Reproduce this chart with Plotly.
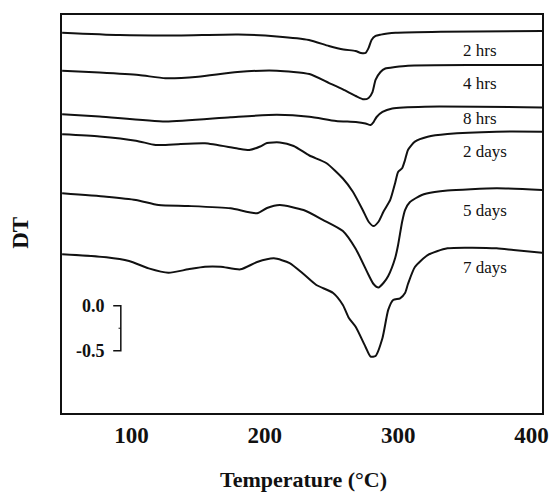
import plotly.graph_objects as go

# ---- data (temperature in °C, DT deviation from each curve's own baseline) ----
labels = ["2 hrs", "4 hrs", "8 hrs", "2 days", "5 days", "7 days"]
offsets = [4.226, 3.803, 3.319, 3.097, 2.441, 1.764]   # vertical stacking offset of each curve

t_2h = [48, 91, 135, 180, 209, 233, 248, 259, 268, 272, 275.5, 277.8, 280, 283, 287, 292, 298, 332, 408]
dt_2h = [0, -0.026, -0.031, -0.020, -0.042, -0.081, -0.148, -0.187, -0.203, -0.226, -0.226, -0.170,
         -0.081, -0.037, -0.022, -0.009, 0, 0.011, 0.019]

t_4h = [48, 76, 105.5, 125.5, 150, 179.5, 209, 233.4, 248.2, 258.5, 268.2, 274.1, 277.8, 280.7, 283,
        286.7, 290.3, 297.7, 307.3, 356.8, 408]
dt_4h = [0, -0.020, -0.048, -0.084, -0.067, -0.014, 0, -0.037, -0.137, -0.207, -0.281, -0.318, -0.303,
         -0.237, -0.103, -0.014, 0.024, 0.041, 0.056, 0.063, 0.063]

t_8h = [48, 76, 125.5, 174.3, 209, 233.4, 253.4, 268.2, 275.5, 279.3, 281.5, 283.8, 288.2, 295.5, 319.9, 408]
dt_8h = [0, -0.024, -0.080, -0.033, -0.006, -0.027, -0.074, -0.086, -0.102, -0.119, -0.086, -0.030,
         0.026, 0.064, 0.084, 0.076]

t_2d = [48, 76, 103.3, 118.1, 131.4, 155.1, 179.5, 188.3, 196.5, 201.6, 211.2, 221.6, 233.4, 246, 258.5,
        266, 273.4, 277.8, 281.5, 285.2, 288.9, 294, 297.7, 299.9, 302.9, 305.1, 307.3, 312.5, 322.1,
        336.9, 373.8, 408]
dt_2d = [0, -0.024, -0.071, -0.119, -0.113, -0.100, -0.158, -0.174, -0.136, -0.097, -0.091, -0.130,
         -0.236, -0.319, -0.492, -0.639, -0.842, -0.972, -1.020, -0.972, -0.861, -0.730, -0.541, -0.419,
         -0.378, -0.286, -0.174, -0.082, -0.027, 0.003, 0.029, 0.029]

t_5d = [48, 81.2, 103.3, 120.3, 142.5, 174.3, 194.2, 201.6, 211.2, 229, 243.8, 258.5, 268.2, 277.8, 281.5,
        285.2, 288.9, 292.5, 297.7, 299.9, 302.9, 305.1, 308.8, 317.7, 327.3, 336.9, 373.8, 408]
dt_5d = [0, -0.038, -0.074, -0.130, -0.141, -0.167, -0.222, -0.163, -0.130, -0.186, -0.297, -0.419,
         -0.619, -0.908, -1.008, -1.047, -0.997, -0.919, -0.719, -0.574, -0.319, -0.186, -0.097, -0.019,
         0.014, 0.031, 0.056, 0.037]

t_7d = [48, 81.2, 98.2, 112.9, 127.7, 142.5, 155.1, 166.9, 181.7, 194.2, 206.8, 218.6, 229, 238.6, 251.2,
        258.5, 263, 268.2, 275.5, 279.3, 283, 288.2, 292.5, 296.2, 301.4, 305.1, 307.3, 312.5, 322.1,
        336.9, 373.8, 386.4, 408]
dt_7d = [0, -0.034, -0.076, -0.157, -0.206, -0.168, -0.139, -0.139, -0.168, -0.087, -0.046, -0.098,
         -0.220, -0.342, -0.431, -0.564, -0.708, -0.808, -1.030, -1.138, -1.130, -0.930, -0.619, -0.508,
         -0.490, -0.431, -0.331, -0.142, -0.009, 0.066, 0.066, 0.047, 0.017]

temps = [t_2h, t_4h, t_8h, t_2d, t_5d, t_7d]
dts = [dt_2h, dt_4h, dt_8h, dt_2d, dt_5d, dt_7d]

x_ticks = [100, 200, 300, 400]
scale_vals = [0.0, -0.5]      # scale bar values
scale_base = 1.192            # where 0.0 of the scale bar sits

FONT = "Liberation Serif"

fig = go.Figure()
for t, d, off in zip(temps, dts, offsets):
    fig.add_trace(go.Scatter(x=t, y=[off + v for v in d], mode="lines",
                             line=dict(color="#111111", width=2, shape="spline", smoothing=0.6),
                             hoverinfo="skip", showlegend=False))

# scale bar
sb_x = [86.3, 92, 92, 86.3]
sb_y = [scale_base + scale_vals[0], scale_base + scale_vals[0],
        scale_base + scale_vals[1], scale_base + scale_vals[1]]
fig.add_trace(go.Scatter(x=sb_x, y=sb_y, mode="lines", line=dict(color="#111111", width=1.5),
                         hoverinfo="skip", showlegend=False))
mid = scale_base + (scale_vals[0] + scale_vals[1]) / 2
fig.add_trace(go.Scatter(x=[90.3, 92], y=[mid, mid], mode="lines", line=dict(color="#111111", width=1),
                         hoverinfo="skip", showlegend=False))
for v in scale_vals:
    fig.add_annotation(x=82, y=scale_base + v, text=f"{v:.1f}", showarrow=False, xanchor="right",
                       yanchor="middle", font=dict(family=FONT, size=18, color="#111111", weight="bold"))

# curve labels
label_y = [4.03, 3.66, 3.27, 2.91, 2.25, 1.62]
for lab, ly in zip(labels, label_y):
    fig.add_annotation(x=347, y=ly, text=lab, showarrow=False, xanchor="left", yanchor="middle",
                       font=dict(family=FONT, size=17, color="#111111"))

# axis titles
fig.add_annotation(xref="paper", yref="paper", x=-0.088, y=0.452, text="DT", textangle=-90,
                   showarrow=False, xanchor="center", yanchor="middle",
                   font=dict(family=FONT, size=23, color="#111111", weight="bold"))
fig.add_annotation(xref="paper", yref="paper", x=0.504, y=-0.168, text="Temperature (°C)",
                   showarrow=False, xanchor="center", yanchor="middle",
                   font=dict(family=FONT, size=22, color="#111111", weight="bold"))

fig.update_layout(
    width=559, height=494,
    margin=dict(l=62, r=10, t=15, b=81),
    paper_bgcolor="white", plot_bgcolor="white",
    showlegend=False,
)
fig.update_xaxes(range=[47.9, 407.8], tickvals=x_ticks, ticktext=[str(v) for v in x_ticks],
                 ticks="", showgrid=False, zeroline=False, showline=True, mirror=True,
                 linecolor="#111111", linewidth=2,
                 tickfont=dict(family=FONT, size=23, color="#111111", weight="bold"),
                 ticklabelstandoff=0)
fig.update_yaxes(range=[0, 4.422], showticklabels=False, ticks="", showgrid=False, zeroline=False,
                 showline=True, mirror=True, linecolor="#111111", linewidth=2)

fig.write_html("out.html", config={"displayModeBar": False},
               post_script="document.body.style.margin='0';")
